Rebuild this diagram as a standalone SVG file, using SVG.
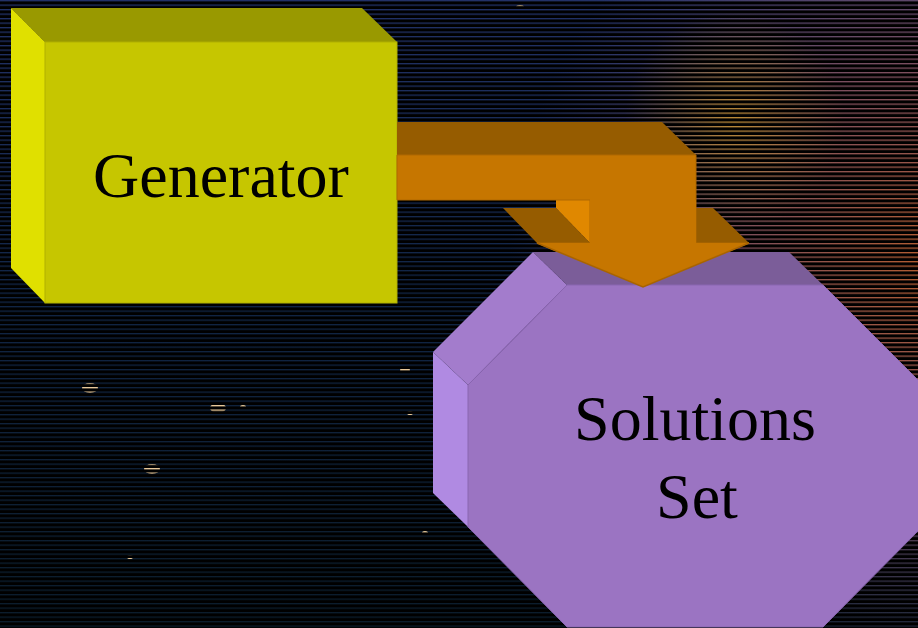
<svg xmlns="http://www.w3.org/2000/svg" width="918" height="628" viewBox="0 0 918 628">
  <style>
    .lbl { font-family: "Liberation Serif", "Times New Roman", serif; font-size: 64px; fill: #000; text-anchor: middle; }
    .star { fill: #f0d0a0; }
  </style>
  <defs>
    <pattern id="scan" width="918" height="4.5" patternUnits="userSpaceOnUse">
      <rect x="0" y="0" width="918" height="1.3" fill="#fff"/>
    </pattern>
    <mask id="scanMask">
      <rect width="918" height="628" fill="url(#scan)"/>
    </mask>
    <linearGradient id="baseGrad" x1="0" y1="0" x2="0" y2="1">
      <stop offset="0" stop-color="#23336a"/>
      <stop offset="0.45" stop-color="#122648"/>
      <stop offset="1" stop-color="#0b1d2c"/>
    </linearGradient>
    <radialGradient id="warm" cx="930" cy="260" r="420" gradientUnits="userSpaceOnUse">
      <stop offset="0" stop-color="#bb6030" stop-opacity="1"/>
      <stop offset="0.45" stop-color="#9a5a60" stop-opacity="0.8"/>
      <stop offset="1" stop-color="#7a5a8a" stop-opacity="0"/>
    </radialGradient>
    <radialGradient id="gold" cx="735" cy="120" r="110" gradientUnits="userSpaceOnUse">
      <stop offset="0" stop-color="#d09a30" stop-opacity="0.85"/>
      <stop offset="1" stop-color="#d09a30" stop-opacity="0"/>
    </radialGradient>
  </defs>

  <!-- background -->
  <rect width="918" height="628" fill="#000"/>
  <g mask="url(#scanMask)">
    <rect width="918" height="628" fill="url(#baseGrad)"/>
    <rect width="918" height="628" fill="url(#warm)"/>
    <rect width="918" height="628" fill="url(#gold)"/>
    <g id="stars">
      <ellipse class="star" cx="90" cy="388" rx="8" ry="5"/>
      <ellipse class="star" cx="218" cy="408" rx="8" ry="5"/>
      <ellipse class="star" cx="152" cy="469" rx="8" ry="5"/>
      <ellipse class="star" cx="405" cy="370" rx="5" ry="3"/>
      <ellipse class="star" cx="410" cy="413" rx="3" ry="2"/>
      <ellipse class="star" cx="425" cy="533" rx="3" ry="2"/>
      <ellipse class="star" cx="130" cy="557" rx="3" ry="2"/>
      <ellipse class="star" cx="243" cy="407" rx="3" ry="2"/>
      <ellipse class="star" cx="520" cy="7" rx="4" ry="2"/>
    </g>
  </g>

  <!-- Generator node -->
  <g id="generator">
    <polygon points="11,8 362,8 397,42 45,42" fill="#999900"/>
    <polygon points="11,8 45,42 45,303 11,268" fill="#e0e000"/>
    <rect x="45" y="42" width="352" height="261" fill="#c6c600" stroke="#b0b000" stroke-width="1"/>
    <text class="lbl" x="221" y="197">Generator</text>
  </g>

  <!-- Connector -->
  <g id="connectors">
    <polygon points="397,122 662,122 696,155 397,155" fill="#965c00"/>
    <polygon points="503,208 556,208 590,243 537,243" fill="#965c00"/>
    <polygon points="696,208 713,208 749,243 696,243" fill="#965c00"/>
    <polygon points="556,200 590,200 590,243 556,208" fill="#e08800"/>
    <polygon points="397,155 696,155 696,243 749,243 643,287 537,243 590,243 590,200 397,200" fill="#c67600" stroke="#b06800" stroke-width="1"/>
  </g>

  <!-- Solutions Set node -->
  <g id="solutions">
    <polygon points="533,252 789,252 823,285 567,285" fill="#7b5d99"/>
    <polygon points="433,352 533,252 567,285 468,385" fill="#a37ccc"/>
    <polygon points="433,352 468,385 468,527 433,493" fill="#b08ae2"/>
    <polygon points="567,285 823,285 922,384 922,527 823,627 567,627 468,527 468,385" fill="#9b74c2" stroke="#8a66b0" stroke-width="1"/>
    <text class="lbl" x="695" y="440">Solutions</text>
    <text class="lbl" x="697" y="518">Set</text>
  </g>
  <!-- arrow head overlaps octagon top -->
  <g id="arrowhead">
    <polygon points="537,243 749,243 643,287" fill="#c67600"/>
    <polyline points="537,243 643,287 749,243" fill="none" stroke="#a86400" stroke-width="1.5"/>
    <polygon points="590,200 696,200 696,244 590,244" fill="#c67600"/>
  </g>
</svg>
